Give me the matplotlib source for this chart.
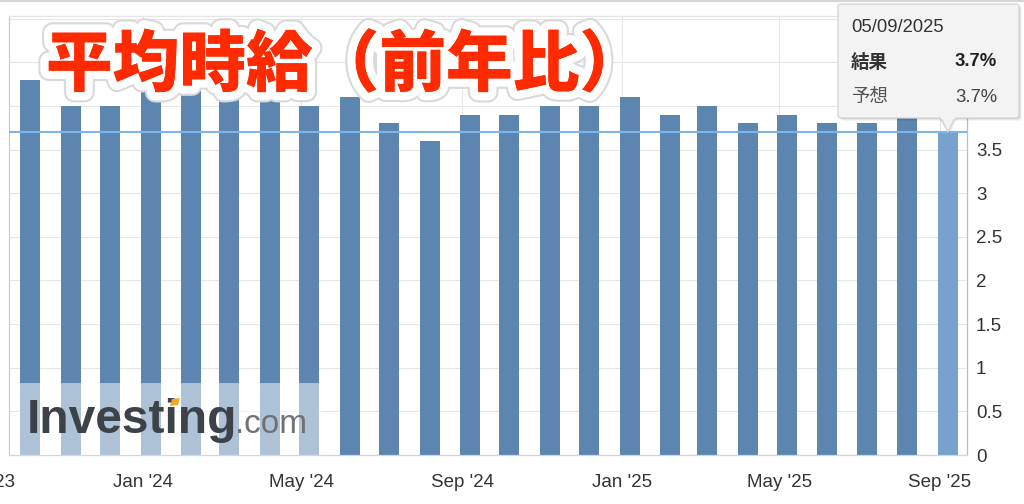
import matplotlib
matplotlib.use("Agg")
import matplotlib.pyplot as plt
import matplotlib.dates as mdates
import matplotlib.patheffects as pe
import matplotlib.transforms as mtransforms
from matplotlib.patches import Rectangle, FancyBboxPatch, Polygon
from matplotlib.lines import Line2D
from matplotlib.ticker import FuncFormatter, MultipleLocator
import pandas as pd

# ---- data -------------------------------------------------------------
months = ["2023-10", "2023-11", "2023-12", "2024-01", "2024-02", "2024-03",
          "2024-04", "2024-05", "2024-06", "2024-07", "2024-08", "2024-09",
          "2024-10", "2024-11", "2024-12", "2025-01", "2025-02", "2025-03",
          "2025-04", "2025-05", "2025-06", "2025-07", "2025-08", "2025-09"]
wage_growth_yoy = [4.3, 4.0, 4.0, 4.3, 4.4, 4.3, 4.2, 4.0, 4.1, 3.8, 3.6, 3.9,
                   3.9, 4.0, 4.0, 4.1, 3.9, 4.0, 3.8, 3.9, 3.8, 3.8, 3.9, 3.7]
release_day = 6            # bars sit on the release day of each month
latest_date_label = "05/09/2025"
latest_actual = "3.7%"
latest_forecast = "3.7%"
title_text = "平均時給（前年比）"

# ---- figure ------------------------------------------------------------
W, H = 1024, 504
fig = plt.figure(figsize=(W / 100, H / 100), dpi=100)
fig.patch.set_facecolor("white")


def fx(x):
    return x / W


def fy(y):
    return 1 - y / H


ax = fig.add_axes([fx(9), fy(455), (967 - 9) / W, (455 - 16) / H])

dates = pd.to_datetime(months) + pd.Timedelta(days=release_day)
xs = mdates.date2num(dates.to_pydatetime())
bar_colors = ["#5c85b0"] * (len(xs) - 1) + ["#78a1cd"]
ax.bar(xs, wage_growth_yoy, width=15.3, color=bar_colors, zorder=2)

# reference line at the latest value
ax.axhline(wage_growth_yoy[-1], color="#7cb5ec", lw=1.5, zorder=3)

x0 = mdates.date2num(pd.Timestamp("2024-01-01")) - 102.4
x1 = mdates.date2num(pd.Timestamp("2025-09-01")) + 20.6
ax.set_xlim(x0, x1)
ax.set_ylim(0, 5.03)

ax.xaxis.set_major_locator(mdates.MonthLocator(bymonth=[1, 5, 9]))
ax.xaxis.set_major_formatter(mdates.DateFormatter("%b '%y"))
ax.yaxis.set_major_locator(MultipleLocator(0.5))
# upper labels sit beneath the tooltip, so only the lower ones are written
ax.yaxis.set_major_formatter(FuncFormatter(lambda v, p: f"{v:g}" if v < 3.75 else ""))
ax.yaxis.tick_right()

label_family = ["Liberation Sans", "DejaVu Sans"]
xpad = 14
ax.tick_params(axis="x", length=0, pad=xpad, labelsize=13.5, labelcolor="#333333")
ax.tick_params(axis="y", length=0, pad=6.5, labelsize=13.5, labelcolor="#333333")
for t in ax.get_xticklabels() + ax.get_yticklabels():
    t.set_fontfamily(label_family)

ax.set_axisbelow(True)
ax.grid(True, color="#e6e6e6", lw=0.75)

ax.spines["left"].set_color("#cccccc")
ax.spines["right"].set_color("#bdbdbd")
ax.spines["top"].set_color("#e6e6e6")
ax.spines["bottom"].set_color("#ccd6eb")
for s in ax.spines.values():
    s.set_linewidth(0.9)

# leftmost month label, partly outside the plotted range
edge_tr = mtransforms.offset_copy(
    mtransforms.blended_transform_factory(ax.transData, ax.transAxes),
    fig=fig, y=-xpad, units="points")
ax.text(mdates.date2num(pd.Timestamp("2023-09-01")), 0, "Sep '23",
        transform=edge_tr, ha="center", va="top", fontsize=13.5,
        color="#333333", clip_on=False, family=label_family)

# thin rule across the very top
fig.add_artist(Line2D([0, 1], [fy(1), fy(1)], transform=fig.transFigure,
                      color="#d6d6d6", lw=1.5))

# ---- watermark -----------------------------------------------------------
fig.add_artist(Rectangle((fx(18), fy(455)), (322 - 18) / W, (455 - 383) / H,
                         transform=fig.transFigure, facecolor="white",
                         alpha=0.5, edgecolor="none", zorder=4))
fig.text(fx(27), fy(433), "Investing", fontsize=34.5, fontweight="bold",
         color="#3d4249", family=label_family,
         ha="left", va="baseline", zorder=5)
fig.text(fx(235), fy(433), ".com", fontsize=24, color="#6f7174",
         family=label_family, ha="left", va="baseline", zorder=5)
fig.add_artist(Polygon([(fx(170), fy(406)), (fx(178), fy(405)),
                        (fx(180), fy(398)), (fx(172), fy(399))],
                       closed=True, transform=fig.transFigure,
                       facecolor="#f5a623", edgecolor="none", zorder=6))

# ---- title -------------------------------------------------------------
fig.text(fx(46), fy(66), title_text, fontsize=48, fontweight="heavy",
         color="#ff2a00", family=["Noto Sans CJK JP", "DejaVu Sans"],
         ha="left", va="center", zorder=7,
         path_effects=[pe.withStroke(linewidth=15, foreground="#d9d9d9"),
                       pe.withStroke(linewidth=12, foreground="white"),
                       pe.Normal()])

# ---- tooltip -------------------------------------------------------------
fig.canvas.draw()
apex_disp = ax.transData.transform((xs[-1], wage_growth_yoy[-1]))
apex_fig = fig.transFigure.inverted().transform(apex_disp)

bx0, bx1, by0, by1 = 838, 1019, 4, 118
for off, a in [(3, 0.04), (2, 0.06), (1, 0.08)]:
    fig.add_artist(FancyBboxPatch((fx(bx0 + off), fy(by1 + off)),
                                  (bx1 - bx0) / W, (by1 - by0) / H,
                                  boxstyle="round,pad=0,rounding_size=0.004",
                                  transform=fig.transFigure,
                                  facecolor="black", alpha=a,
                                  edgecolor="none", zorder=8))
tip_half = 7 / W
fig.add_artist(Polygon([(apex_fig[0] - tip_half - 1.5 / W, fy(by1) - 1.5 / H),
                        (apex_fig[0] + 1.5 / W, apex_fig[1] - 2.5 / H),
                        (apex_fig[0] + tip_half + 1.5 / W, fy(by1) - 1.5 / H)],
                       closed=True, transform=fig.transFigure,
                       facecolor="black", alpha=0.08, edgecolor="none",
                       zorder=8))
fig.add_artist(FancyBboxPatch((fx(bx0), fy(by1)), (bx1 - bx0) / W,
                              (by1 - by0) / H,
                              boxstyle="round,pad=0,rounding_size=0.004",
                              transform=fig.transFigure,
                              facecolor="#f3f3f3", edgecolor="#d4d4d4",
                              lw=0.9, zorder=9))
fig.add_artist(Polygon([(apex_fig[0] - tip_half, fy(by1) + 0.5 / H),
                        (apex_fig[0], apex_fig[1]),
                        (apex_fig[0] + tip_half, fy(by1) + 0.5 / H)],
                       closed=False, transform=fig.transFigure,
                       facecolor="#f3f3f3", edgecolor="#d4d4d4",
                       lw=0.9, zorder=10))
fig.add_artist(Line2D([apex_fig[0] - tip_half + 1 / W, apex_fig[0] + tip_half - 1 / W],
                      [fy(by1) + 0.3 / H, fy(by1) + 0.3 / H],
                      transform=fig.transFigure, color="#f3f3f3",
                      lw=1.6, zorder=11))

tip_font = ["Liberation Sans", "Noto Sans CJK JP", "DejaVu Sans"]
cjk_font = ["Noto Sans CJK JP", "DejaVu Sans"]
fig.text(fx(851), fy(27), latest_date_label, fontsize=13.3, color="#333333",
         family=tip_font, ha="left", va="center", zorder=12)
fig.text(fx(851), fy(62), "結果", fontsize=13.3, color="#333333",
         fontweight="bold", family=cjk_font, ha="left", va="center", zorder=12)
fig.text(fx(997), fy(62), latest_actual, fontsize=13.3, color="#222222",
         fontweight="bold", family=tip_font, ha="right", va="center", zorder=12)
fig.text(fx(851), fy(97), "予想", fontsize=13.3, color="#555555",
         family=cjk_font, ha="left", va="center", zorder=12)
fig.text(fx(997), fy(97), latest_forecast, fontsize=13.3, color="#444444",
         family=tip_font, ha="right", va="center", zorder=12)

fig.savefig("out.png", dpi=100, facecolor="white")
